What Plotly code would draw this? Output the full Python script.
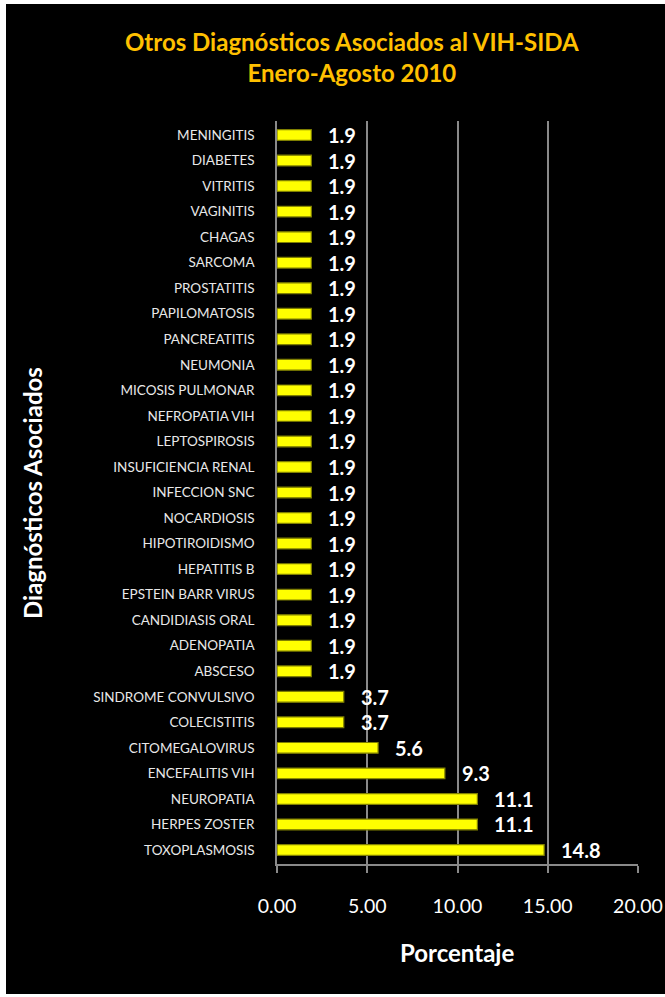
import plotly.graph_objects as go

categories = [
    "MENINGITIS", "DIABETES", "VITRITIS", "VAGINITIS", "CHAGAS", "SARCOMA",
    "PROSTATITIS", "PAPILOMATOSIS", "PANCREATITIS", "NEUMONIA",
    "MICOSIS PULMONAR", "NEFROPATIA VIH", "LEPTOSPIROSIS", "INSUFICIENCIA RENAL",
    "INFECCION SNC", "NOCARDIOSIS", "HIPOTIROIDISMO", "HEPATITIS B",
    "EPSTEIN BARR VIRUS", "CANDIDIASIS ORAL", "ADENOPATIA", "ABSCESO",
    "SINDROME CONVULSIVO", "COLECISTITIS", "CITOMEGALOVIRUS", "ENCEFALITIS VIH",
    "NEUROPATIA", "HERPES ZOSTER", "TOXOPLASMOSIS",
]
values = [1.9] * 22 + [3.7, 3.7, 5.6, 9.3, 11.1, 11.1, 14.8]
x_ticks = [0, 5, 10, 15, 20]
x_tick_labels = ["0.00", "5.00", "10.00", "15.00", "20.00"]

W, H = 665, 997
L, R, T, B = 277, 27, 121, 133
PW, PH = W - L - R, H - T - B

def px(x):
    return (x - L) / PW

def py(y):
    return (H - B - y) / PH

FONT = "Lato"

fig = go.Figure()
fig.add_trace(go.Bar(
    x=values, y=categories, orientation="h",
    marker=dict(color="#FFFF00", line=dict(color="#7F7F00", width=1.2)),
    hoverinfo="skip",
))

annotations = []
for c, v in zip(categories, values):
    annotations.append(dict(
        x=v, y=c, xref="x", yref="y", text=f"<b>{v:.1f}</b>", showarrow=False,
        xanchor="left", yanchor="middle", xshift=15,
        font=dict(family=FONT, size=20, color="white"),
    ))

annotations += [
    dict(x=px(352), y=py(57), xref="paper", yref="paper",
         text="<b>Otros Diagnósticos Asociados al VIH-SIDA<br>Enero-Agosto 2010</b>",
         showarrow=False, xanchor="center", yanchor="middle", align="center",
         font=dict(family=FONT, size=24, color="#FFC000")),
    dict(x=px(33), y=py(493), xref="paper", yref="paper",
         text="<b>Diagnósticos Asociados</b>", textangle=-90, showarrow=False,
         xanchor="center", yanchor="middle",
         font=dict(family=FONT, size=24, color="white")),
    dict(x=px(457), y=py(953), xref="paper", yref="paper",
         text="<b>Porcentaje</b>", showarrow=False,
         xanchor="center", yanchor="middle",
         font=dict(family=FONT, size=24, color="white")),
]

shapes = [
    dict(type="rect", xref="paper", yref="paper", layer="below",
         x0=px(6), x1=px(666), y0=py(994), y1=py(4),
         fillcolor="black", line=dict(width=0)),
]

fig.update_layout(
    width=W, height=H,
    margin=dict(l=L, r=R, t=T, b=B, pad=0),
    paper_bgcolor="white", plot_bgcolor="rgba(0,0,0,0)",
    showlegend=False, bargap=0.58,
    annotations=annotations, shapes=shapes,
    xaxis=dict(
        range=[0, 20], tickvals=x_ticks, ticktext=x_tick_labels,
        automargin=False,
        showgrid=True, gridcolor="#8a8a8a", gridwidth=1.5,
        showline=True, linecolor="#8a8a8a", linewidth=1.5,
        ticks="outside", ticklen=7, tickcolor="#8a8a8a", tickwidth=1.5,
        ticklabelstandoff=17, zeroline=False,
        tickfont=dict(family=FONT, size=19.5, color="white"),
    ),
    yaxis=dict(
        categoryorder="array", categoryarray=categories, autorange="reversed",
        automargin=False,
        showline=True, linecolor="#8a8a8a", linewidth=1.5, showgrid=False,
        ticks="", ticklabelstandoff=18,
        tickfont=dict(family=FONT, size=13.5, color="#e8e8e8"),
    ),
)

fig.write_html("out.html")
